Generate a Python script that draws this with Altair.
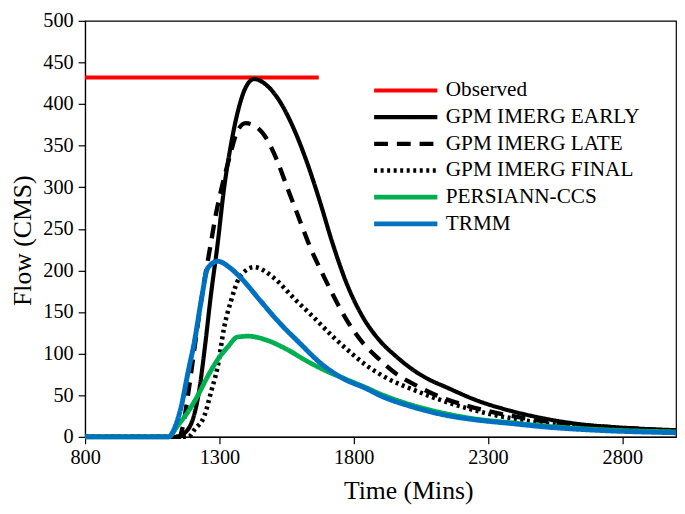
import altair as alt
import pandas as pd

series_names = ["Observed", "GPM IMERG EARLY", "GPM IMERG LATE",
                "GPM IMERG FINAL", "PERSIANN-CCS", "TRMM"]
series_colors = ["#FF0000", "#000000", "#000000", "#000000", "#00B050", "#0070C0"]
series_dash = [[1, 0], [1, 0], [14, 9], [3, 3.6], [1, 0], [1, 0]]
series_width = [4, 5, 4.2, 3.4, 4, 4]

obs_t = [800, 1670]
obs_f = [432, 432]

early_t = [800, 1150, 1165, 1202, 1226, 1245, 1269, 1292, 1318, 1343, 1368, 1398, 1429,
           1478, 1527, 1576, 1626, 1675, 1718, 1773, 1834, 1896, 1957, 2019, 2080, 2142,
           2265, 2388, 2510, 2623, 2800, 3000]
early_f = [0, 0, 3, 22, 58, 105, 172, 228, 300, 351, 390, 420, 430,
           422, 402, 371, 330, 282, 236, 185, 144, 116, 97, 81, 69, 60,
           43, 31, 22, 16, 11, 8]

late_t = [800, 1150, 1165, 1183, 1208, 1232, 1269, 1288, 1306, 1331, 1345, 1368, 1398, 1430,
          1466, 1515, 1552, 1589, 1638, 1690, 1740, 1773, 1834, 1896, 1957, 2043, 2129, 2215,
          2301, 2461, 2650, 2800, 3000]
late_f = [0, 0, 14, 50, 108, 163, 234, 269, 296, 328, 345, 368, 377, 374,
          363, 332, 300, 269, 228, 192, 160, 141, 113, 93, 76, 60, 47, 38,
          31, 21, 14, 11, 7]

final_t = [800, 1185, 1208, 1245, 1269, 1294, 1318, 1343, 1374, 1429, 1503, 1576, 1650,
           1724, 1797, 1847, 1921, 2019, 2117, 2215, 2313, 2412, 2600, 2800, 3000]
final_f = [0, 0, 9, 26, 54, 85, 132, 163, 191, 204, 191, 167, 144,
           120, 99, 86, 71, 57, 45, 35, 27, 21, 13, 9, 6]

persiann_t = [800, 1110, 1146, 1183, 1220, 1257, 1294, 1331, 1368, 1406, 1478, 1552, 1626,
              1699, 1773, 1847, 1896, 2019, 2142, 2265, 2388, 2510, 2700, 3000]
persiann_f = [0, 0, 14, 30, 50, 73, 93, 108, 120, 121, 116, 105, 91,
              79, 69, 59, 52, 38, 28, 21, 17, 13, 9, 6]

trmm_t = [800, 1110, 1134, 1159, 1183, 1208, 1232, 1257, 1294, 1340, 1380, 1454, 1527,
          1601, 1675, 1761, 1847, 1896, 2019, 2142, 2265, 2388, 2510, 2700, 3000]
trmm_f = [0, 0, 11, 38, 77, 116, 163, 203, 211, 203, 191, 163, 136,
          112, 89, 70, 58, 50, 36, 26, 20, 16, 12, 8, 5]

x_ticks = [800, 1300, 1800, 2300, 2800]
y_ticks = [0, 50, 100, 150, 200, 250, 300, 350, 400, 450, 500]

all_t = [obs_t, early_t, late_t, final_t, persiann_t, trmm_t]
all_f = [obs_f, early_f, late_f, final_f, persiann_f, trmm_f]
rows = []
for name, ts, fs in zip(series_names, all_t, all_f):
    for t, f in zip(ts, fs):
        rows.append({"Series": name, "Time": t, "Flow": f})
df = pd.DataFrame(rows)

legend = alt.Legend(
    title=None, orient="none", legendX=290, legendY=57,
    symbolType="stroke", symbolSize=4096, clipHeight=27, rowPadding=0,
    labelFont="Liberation Serif", labelFontSize=21.5, labelColor="#000000",
    labelOffset=6, padding=0, labelLimit=400,
)

chart = alt.Chart(df).mark_line(interpolate="monotone").encode(
    x=alt.X("Time:Q",
            scale=alt.Scale(domain=[800, 3000], nice=False, zero=False),
            axis=alt.Axis(values=x_ticks, title="Time (Mins)", format="d",
                          labelFlush=False,
                          titleX=327, titleY=62, titleBaseline="alphabetic",
                          titleFontSize=26, labelPadding=4)),
    y=alt.Y("Flow:Q",
            scale=alt.Scale(domain=[0, 500], nice=False),
            axis=alt.Axis(values=y_ticks, title="Flow (CMS)", labelFlush=False,
                          titleX=-55, titleY=222, titleBaseline="alphabetic",
                          titleAngle=270, titleFontSize=26, labelPadding=5)),
    color=alt.Color("Series:N", scale=alt.Scale(domain=series_names, range=series_colors),
                    legend=legend),
    strokeDash=alt.StrokeDash("Series:N", scale=alt.Scale(domain=series_names, range=series_dash),
                              legend=legend),
    strokeWidth=alt.StrokeWidth("Series:N", scale=alt.Scale(domain=series_names, range=series_width),
                                legend=legend),
).properties(
    width=598, height=421,
    autosize=alt.AutoSizeParams(type="none"),
    padding={"left": 78, "top": 10, "right": 1, "bottom": 67},
).configure_view(
    stroke="#000000", strokeWidth=1.2
).configure_axis(
    grid=False, domainColor="#000000", domainWidth=1.2, tickColor="#000000",
    tickWidth=1.2, tickSize=7, labelFont="Liberation Serif", labelFontSize=20.5,
    labelColor="#000000", titleFont="Liberation Serif", titleFontWeight="normal",
    titleColor="#000000",
)

chart.save("out.html", embed_options={"renderer": "svg", "actions": False})
